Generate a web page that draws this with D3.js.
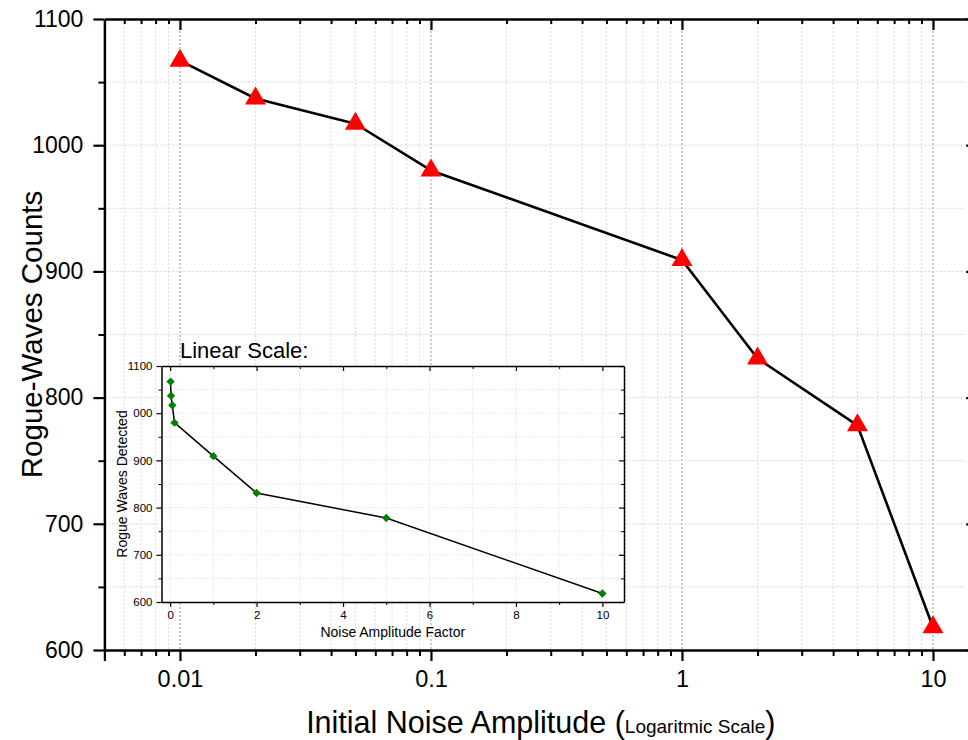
<!DOCTYPE html>
<html>
<head>
<meta charset="utf-8">
<script src="https://cdn.jsdelivr.net/npm/d3@7"></script>
<style>
  body { margin: 0; background: #fff; }
  svg { display: block; font-family: "Liberation Sans", Arial, sans-serif; }
</style>
</head>
<body>
<script>
// data
const noiseAmplitude = [0.01, 0.02, 0.05, 0.1, 1, 2, 5, 10];
const rogueCounts = [1067, 1037, 1017, 980, 909, 831, 778, 618];

// tick labels
const logTicks = [0.01, 0.1, 1, 10];
const logTickLabels = ["0.01", "0.1", "1", "10"];
const countTicks = [600, 700, 800, 900, 1000, 1100];
const insetXTicks = [0, 2, 4, 6, 8, 10];
const insetXMinor = [1, 3, 5, 7, 9];
const insetYTicks = [600, 700, 800, 900, 1000, 1100];
const insetYLabels = ["600", "700", "800", "900", "000", "1100"];

const svg = d3
  .select("body")
  .append("svg")
  .attr("width", 968)
  .attr("height", 740);

// main scales
const x = d3.scaleLog().domain([0.005, 15]).range([104.4, 977.2]);
const y = d3.scaleLinear().domain([600, 1100]).range([650, 19]);

const isMajor = d => logTicks.some(t => Math.abs(t - d) < 1e-9);
const allLogTicks = x.ticks().filter(d => d > 0.0051);
const minorLog = allLogTicks.filter(d => !isMajor(d));
const minorCounts = y.ticks(10).filter(d => !countTicks.includes(d));

//grid
const grid = svg.append("g");
grid.selectAll(".vgrid")
  .data(allLogTicks)
  .join("line")
  .attr("x1", d => x(d)).attr("x2", d => x(d))
  .attr("y1", y(1100)).attr("y2", y(600))
  .attr("stroke", d => isMajor(d) ? "#9a9a9a" : "#dadada")
  .attr("stroke-width", 1)
  .attr("stroke-dasharray", "2,2");

grid.selectAll(".hgrid")
  .data(y.ticks(10).filter(d => d > 600 && d < 1100))
  .join("line")
  .attr("x1", x(0.005)).attr("x2", 965)
  .attr("y1", d => y(d)).attr("y2", d => y(d))
  .attr("stroke", "#d2d2d2")
  .attr("stroke-width", 1)
  .attr("stroke-dasharray", "2,2");

// axes helper for styling
function styleAxis(g, size) {
  g.attr("font-family", null).attr("font-size", size);
  g.select(".domain").attr("stroke-width", 2.5);
  g.selectAll(".tick line").attr("stroke-width", 2.2);
  g.selectAll(".tick text").attr("fill", "#000");
}

// bottom
svg.append("g")
  .attr("transform", `translate(0,${y(600)})`)
  .call(d3.axisBottom(x).tickValues(minorLog).tickSize(6).tickFormat("").tickSizeOuter(0))
  .call(g => g.select(".domain").remove())
  .call(g => g.selectAll("line").attr("stroke-width", 2));
svg.append("g")
  .attr("transform", `translate(0,${y(600)})`)
  .call(d3.axisBottom(x).tickValues([0.005].concat(logTicks)).tickSize(11).tickPadding(9)
    .tickFormat(d => d === 0.005 ? "" : logTickLabels[logTicks.indexOf(d)]).tickSizeOuter(0))
  .call(g => styleAxis(g, 23.5));

// top
svg.append("g")
  .attr("transform", `translate(0,${y(1100)})`)
  .call(d3.axisTop(x).tickValues(minorLog).tickSize(-5).tickFormat("").tickSizeOuter(0))
  .call(g => g.select(".domain").remove())
  .call(g => g.selectAll("line").attr("stroke-width", 2));
svg.append("g")
  .attr("transform", `translate(0,${y(1100)})`)
  .call(d3.axisTop(x).tickValues(logTicks).tickSize(-11).tickFormat("").tickSizeOuter(0))
  .call(g => styleAxis(g, 22));

// left
svg.append("g")
  .attr("transform", `translate(${x(0.005)},0)`)
  .call(d3.axisLeft(y).tickValues(minorCounts).tickSize(6).tickFormat("").tickSizeOuter(0))
  .call(g => g.select(".domain").remove())
  .call(g => g.selectAll("line").attr("stroke-width", 2));
svg.append("g")
  .attr("transform", `translate(${x(0.005)},0)`)
  .call(d3.axisLeft(y).tickValues(countTicks).tickSize(11).tickPadding(10)
    .tickFormat(d3.format("d")).tickSizeOuter(0))
  .call(g => styleAxis(g, 23));

// right (mostly off the picture)
svg.append("g")
  .attr("transform", `translate(${x(15)},0)`)
  .call(d3.axisRight(y).tickValues(countTicks).tickSize(-11).tickFormat("").tickSizeOuter(0))
  .call(g => styleAxis(g, 22));

// main line + red triangles
const points = noiseAmplitude.map((d, i) => [d, rogueCounts[i]]);

svg.append("path")
  .datum(points)
  .attr("fill", "none")
  .attr("stroke", "#000")
  .attr("stroke-width", 2.6)
  .attr("stroke-linejoin", "round")
  .attr("d", d3.line().x(d => x(d[0])).y(d => y(d[1])));

svg.selectAll(".tri")
  .data(points)
  .join("path")
  .attr("transform", d => `translate(${x(d[0])},${y(d[1])})`)
  .attr("d", "M0,-12L10.5,6L-10.5,6Z")
  .attr("fill", "#ff0000");

// axis titles
svg.append("text")
  .attr("transform", `translate(42,${(y(600) + y(1100)) / 2}) rotate(-90)`)
  .attr("text-anchor", "middle")
  .attr("font-size", 29.5)
  .text("Rogue-Waves Counts");

const xTitle = svg.append("text")
  .attr("x", (x(0.005) + x(15)) / 2)
  .attr("y", 733)
  .attr("text-anchor", "middle")
  .attr("font-size", 30.5);
xTitle.append("tspan").text("Initial Noise Amplitude (");
xTitle.append("tspan").attr("font-size", 19).text("Logaritmic Scale");
xTitle.append("tspan").text(")");

// ---------- inset (linear scale) ----------
const ix = d3.scaleLinear().domain([-0.2, 10.5]).range([161.5, 624]);
const iy = d3.scaleLinear().domain([600, 1100]).range([602, 366]);

svg.append("rect")
  .attr("x", ix(-0.2)).attr("y", iy(1100))
  .attr("width", ix(10.5) - ix(-0.2)).attr("height", iy(600) - iy(1100))
  .attr("fill", "#fff");

const igrid = svg.append("g");
igrid.selectAll("line.v")
  .data(d3.range(0, 11))
  .join("line")
  .attr("x1", d => ix(d)).attr("x2", d => ix(d))
  .attr("y1", iy(1100)).attr("y2", iy(600))
  .attr("stroke", "#e4e4e4")
  .attr("stroke-dasharray", "1.5,1.5");
igrid.selectAll("line.h")
  .data(iy.ticks(10).filter(d => d > 600 && d < 1100))
  .join("line")
  .attr("x1", ix(-0.2)).attr("x2", ix(10.5))
  .attr("y1", d => iy(d)).attr("y2", d => iy(d))
  .attr("stroke", "#e4e4e4")
  .attr("stroke-dasharray", "1.5,1.5");

const insetMinorY = iy.ticks(10).filter(d => !insetYTicks.includes(d));

function styleInset(g) {
  g.attr("font-family", null).attr("font-size", 11.5);
  g.select(".domain").attr("stroke-width", 1.5);
  g.selectAll(".tick line").attr("stroke-width", 1.2);
  g.selectAll(".tick text").attr("fill", "#000");
}

// inset bottom
svg.append("g")
  .attr("transform", `translate(0,${iy(600)})`)
  .call(d3.axisBottom(ix).tickValues(insetXMinor).tickSize(3).tickFormat("").tickSizeOuter(0))
  .call(g => g.select(".domain").remove());
svg.append("g")
  .attr("transform", `translate(0,${iy(600)})`)
  .call(d3.axisBottom(ix).tickValues(insetXTicks).tickSize(5).tickPadding(4).tickSizeOuter(0))
  .call(styleInset);
// inset top
svg.append("g")
  .attr("transform", `translate(0,${iy(1100)})`)
  .call(d3.axisTop(ix).tickValues(insetXMinor).tickSize(-3).tickFormat("").tickSizeOuter(0))
  .call(g => g.select(".domain").remove());
svg.append("g")
  .attr("transform", `translate(0,${iy(1100)})`)
  .call(d3.axisTop(ix).tickValues(insetXTicks).tickSize(-5).tickFormat("").tickSizeOuter(0))
  .call(styleInset);
// inset left
svg.append("g")
  .attr("transform", `translate(${ix(-0.2)},0)`)
  .call(d3.axisLeft(iy).tickValues(insetMinorY).tickSize(3).tickFormat("").tickSizeOuter(0))
  .call(g => g.select(".domain").remove());
svg.append("g")
  .attr("transform", `translate(${ix(-0.2)},0)`)
  .call(d3.axisLeft(iy).tickValues(insetYTicks).tickSize(5).tickPadding(4)
    .tickFormat(d => insetYLabels[insetYTicks.indexOf(d)]).tickSizeOuter(0))
  .call(styleInset);
// inset right
svg.append("g")
  .attr("transform", `translate(${ix(10.5)},0)`)
  .call(d3.axisRight(iy).tickValues(insetMinorY).tickSize(-3).tickFormat("").tickSizeOuter(0))
  .call(g => g.select(".domain").remove());
svg.append("g")
  .attr("transform", `translate(${ix(10.5)},0)`)
  .call(d3.axisRight(iy).tickValues(insetYTicks).tickSize(-5).tickFormat("").tickSizeOuter(0))
  .call(styleInset);

// inset line + green diamonds
svg.append("path")
  .datum(points)
  .attr("fill", "none")
  .attr("stroke", "#000")
  .attr("stroke-width", 1.5)
  .attr("d", d3.line().x(d => ix(d[0])).y(d => iy(d[1])));

svg.selectAll(".dia")
  .data(points)
  .join("path")
  .attr("transform", d => `translate(${ix(d[0])},${iy(d[1])})`)
  .attr("d", "M0,-4.2L4.2,0L0,4.2L-4.2,0Z")
  .attr("fill", "#008000");

// inset texts
svg.append("text")
  .attr("x", 180).attr("y", 358)
  .attr("font-size", 22)
  .text("Linear Scale:");

svg.append("text")
  .attr("transform", `translate(127,${(iy(600) + iy(1100)) / 2}) rotate(-90)`)
  .attr("text-anchor", "middle")
  .attr("font-size", 14)
  .text("Rogue Waves Detected");

svg.append("text")
  .attr("x", (ix(-0.2) + ix(10.5)) / 2)
  .attr("y", 637)
  .attr("text-anchor", "middle")
  .attr("font-size", 14)
  .text("Noise Amplitude Factor");
</script>
</body>
</html>
